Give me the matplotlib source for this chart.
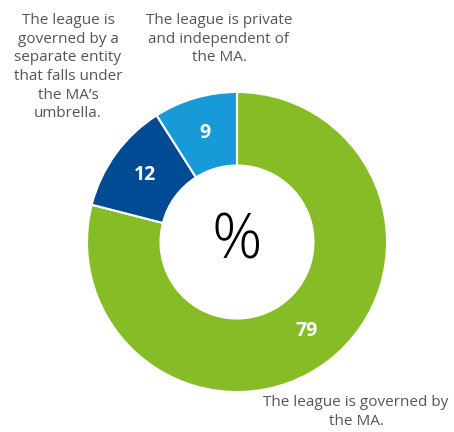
import matplotlib
matplotlib.use("Agg")
import matplotlib.pyplot as plt

# Share of leagues by governance type (%)
categories = [
    "The league is governed by\nthe MA.",
    "The league is\ngoverned by a\nseparate entity\nthat falls under\nthe MA\u2019s\numbrella.",
    "The league is private\nand independent of\nthe MA.",
]
values = [79, 12, 9]
colors = ["#86BC25", "#004B93", "#179AD7"]

plt.rcParams["font.family"] = ["Open Sans", "DejaVu Sans"]

W, H = 454, 432
fig = plt.figure(figsize=(W / 100, H / 100), dpi=100)
ax = fig.add_axes([0, 0, 1, 1])

cx, cy, r = 237, H - 242, 150
wedges, _, pct_texts = ax.pie(
    values,
    colors=colors,
    startangle=90,
    counterclock=False,
    radius=r,
    center=(cx, cy),
    autopct=lambda p: f"{p:.0f}",
    pctdistance=0.755,
    wedgeprops=dict(width=r * 0.49, edgecolor="white", linewidth=1.5),
)
for t in pct_texts:
    t.set_color("white")
    t.set_fontweight("bold")
    t.set_fontsize(14)

ax.text(cx, cy, "%", ha="center", va="center", fontsize=45,
        fontweight="light", color="black")

label_kw = dict(ha="center", va="top", fontsize=11, color="#555555",
                linespacing=1.33)
ax.text(356, H - 395, categories[0], **label_kw)
ax.text(68, H - 13, categories[1], **label_kw)
ax.text(219, H - 13, categories[2], **label_kw)

ax.set_xlim(0, W)
ax.set_ylim(0, H)
ax.set_aspect("auto")
ax.axis("off")

fig.savefig("out.png", dpi=100)
